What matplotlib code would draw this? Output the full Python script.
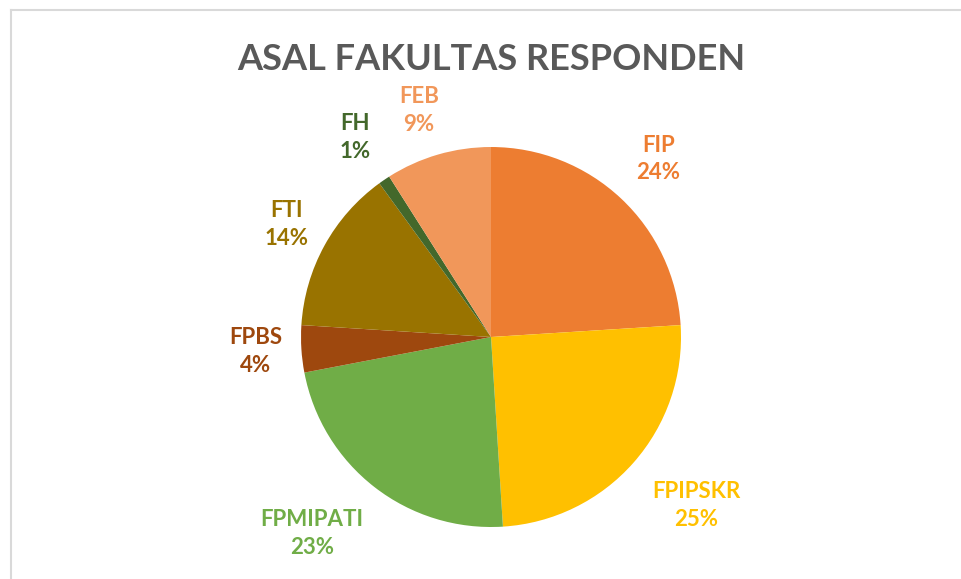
import numpy as np
import matplotlib.pyplot as plt
from matplotlib.lines import Line2D

plt.rcParams['font.family'] = ['Lato', 'DejaVu Sans']

# data
fakultas = ['FIP', 'FPIPSKR', 'FPMIPATI', 'FPBS', 'FTI', 'FH', 'FEB']
persen = [24, 25, 23, 4, 14, 1, 9]
warna = ['#ED7D31', '#FFC000', '#70AD47', '#9E480E', '#997300', '#43682B', '#F1975A']
# label placement (distance in radii, angle shift in degrees)
label_jarak = [1.285, 1.40, 1.40, 1.24, 1.23, 1.27, 1.25]
label_geser = [0, 2, -4.5, 0, 0, 0, 1.5]

fig = plt.figure(figsize=(9.62, 5.79), dpi=100)
ax = fig.add_axes([0.3129, 0.0898, 0.395, 0.6563])

wedges, _ = ax.pie(persen, colors=warna, startangle=90, counterclock=False,
                   radius=1.0)
ax.set_xlim(-1, 1)
ax.set_ylim(-1, 1)
ax.set_aspect('equal')

for w, nama, p, c, d, g in zip(wedges, fakultas, persen, warna, label_jarak, label_geser):
    ang = np.deg2rad((w.theta1 + w.theta2) / 2 + g)
    ax.text(d * np.cos(ang), d * np.sin(ang), f'{nama}\n{p}%', color=c,
            ha='center', va='center', fontsize=16, fontweight='bold',
            linespacing=1.4, clip_on=False)

fig.text(0.511, 0.897, 'ASAL FAKULTAS RESPONDEN', ha='center', va='center',
         fontsize=26, fontweight='bold', color='#595959')

# chart border (top and left visible)
fig.add_artist(Line2D([11 / 962, 1], [1 - 10 / 579] * 2, color='#D9D9D9', lw=1.5,
                      transform=fig.transFigure))
fig.add_artist(Line2D([11 / 962] * 2, [0, 1 - 10 / 579], color='#D9D9D9', lw=1.5,
                      transform=fig.transFigure))

fig.savefig('out.png', dpi=100, facecolor='white')
